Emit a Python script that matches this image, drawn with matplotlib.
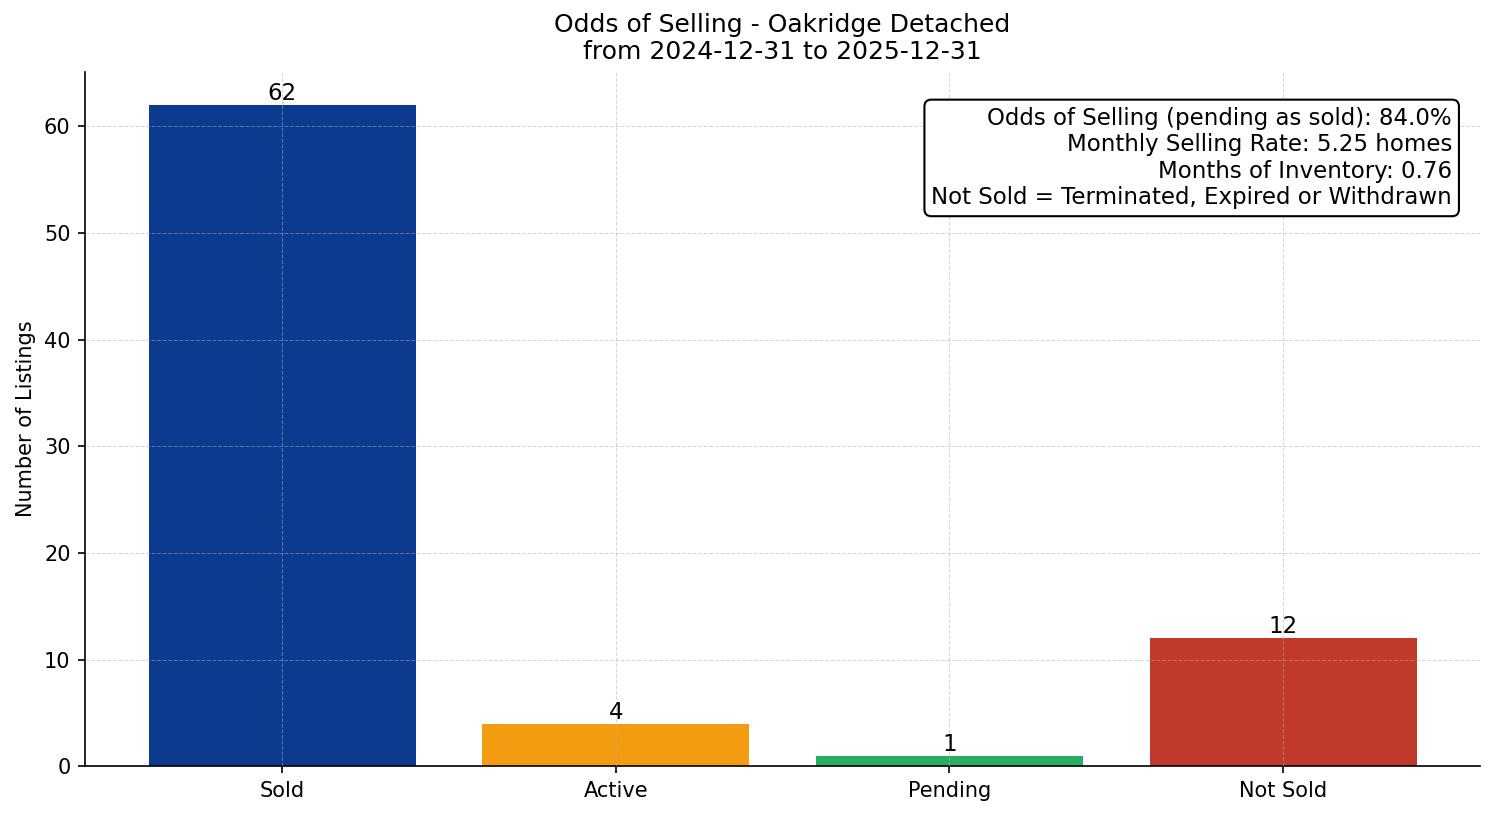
import matplotlib
matplotlib.use('Agg')
import matplotlib.pyplot as plt

# data
categories = ['Sold', 'Active', 'Pending', 'Not Sold']
counts = [62, 4, 1, 12]
colors = ['#0b3a8e', '#f39c12', '#27ae60', '#c0392b']

odds_pct = 84.0
monthly_rate = 5.25
months_inventory = 0.76

fig, ax = plt.subplots(figsize=(9.96, 5.44), dpi=150)
fig.subplots_adjust(left=0.057, right=0.9906, top=0.912, bottom=0.061)

bars = ax.bar(categories, counts, color=colors, width=0.8)
for b, v in zip(bars, counts):
    ax.text(b.get_x() + b.get_width() / 2, v, str(v),
            ha='center', va='bottom', fontsize=11)

ax.set_title('Odds of Selling - Oakridge Detached\nfrom 2024-12-31 to 2025-12-31',
             fontsize=12)
ax.set_ylabel('Number of Listings', fontsize=10)

ax.grid(True, linestyle='--', linewidth=0.5, alpha=0.5)
ax.set_axisbelow(False)
ax.spines['top'].set_visible(False)
ax.spines['right'].set_visible(False)

info = (f"Odds of Selling (pending as sold): {odds_pct:.1f}%\n"
        f"Monthly Selling Rate: {monthly_rate:.2f} homes\n"
        f"Months of Inventory: {months_inventory:.2f}\n"
        "Not Sold = Terminated, Expired or Withdrawn")
ax.text(0.98, 0.95, info, transform=ax.transAxes, ha='right', va='top',
        fontsize=11,
        bbox=dict(boxstyle='round,pad=0.3', facecolor='white', edgecolor='black'))

fig.savefig('out.png', dpi=150)
